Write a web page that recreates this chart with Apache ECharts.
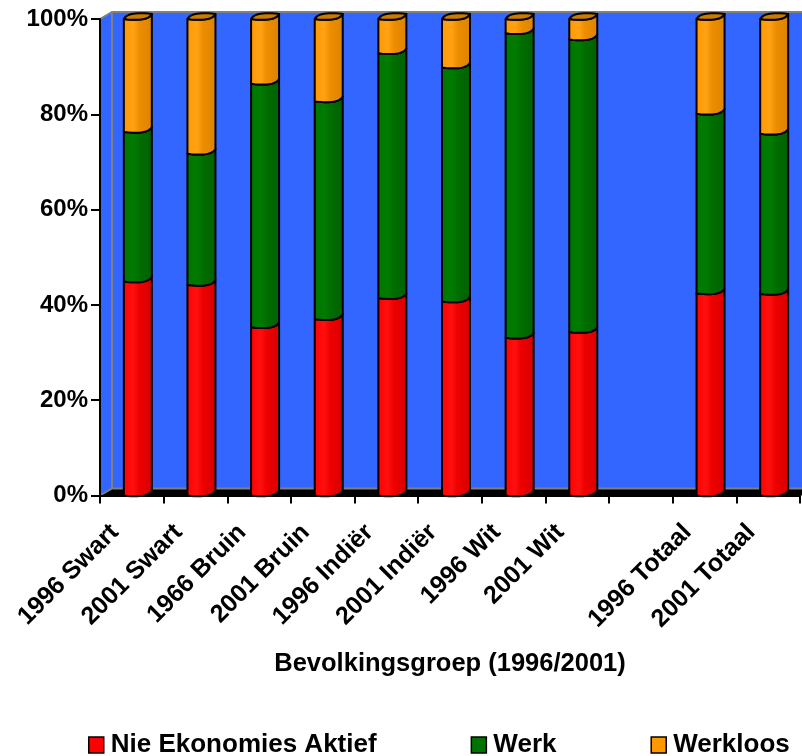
<!DOCTYPE html>
<html><head><meta charset="utf-8">
<script src="https://cdn.jsdelivr.net/npm/echarts@6/dist/echarts.min.js"></script>
<style>html,body{margin:0;padding:0;background:#fff}#c{width:802px;height:756px}</style>
</head><body><div id="c"></div>
<script>
const categories = ['1996 Swart','2001 Swart','1966 Bruin','2001 Bruin','1996 Indiër','2001 Indiër','1996 Wit','2001 Wit','','1996 Totaal','2001 Totaal'];
const nieEkonomiesAktief = [44.9,44.2,35.3,37.0,41.4,40.7,33.1,34.3,null,42.4,42.3];
const werk = [31.4,27.5,51.1,45.7,51.4,49.1,63.9,61.4,null,37.7,33.6];
const werkloos = [23.7,28.3,13.6,17.3,7.2,10.2,3.0,4.3,null,19.9,24.1];
const seriesNames = ['Nie Ekonomies Aktief','Werk','Werkloos'];
const seriesColors = ['#FF0000','#007400','#FF9900'];
const yTicks = [0,20,40,60,80,100];

const FONT = '"Liberation Sans", Arial, sans-serif';
const allSeries = [nieEkonomiesAktief, werk, werkloos];
const gradStops = [
  [{o:0,c:'#FF0000'},{o:0.35,c:'#FF1010'},{o:0.55,c:'#EE0000'},{o:1,c:'#D60000'}],
  [{o:0,c:'#007400'},{o:0.35,c:'#007C00'},{o:0.55,c:'#006E00'},{o:1,c:'#006000'}],
  [{o:0,c:'#FF9900'},{o:0.35,c:'#FFA214'},{o:0.55,c:'#EE8E00'},{o:1,c:'#DA8200'}]
];
const capColor = '#CC7A00';

function stackData(k) {
  const out = [];
  categories.forEach((c, i) => {
    const v = allSeries[k][i];
    if (v == null) return;
    let s = 0;
    for (let j = 0; j < k; j++) s += allSeries[j][i];
    out.push([i, s, s + v]);
  });
  return out;
}

function bez(p0, p1, p2, p3, n) {
  const pts = [];
  for (let t = 0; t <= n; t++) {
    const u = t / n, a = 1 - u;
    pts.push([
      a*a*a*p0[0] + 3*a*a*u*p1[0] + 3*a*u*u*p2[0] + u*u*u*p3[0],
      a*a*a*p0[1] + 3*a*a*u*p1[1] + 3*a*u*u*p2[1] + u*u*u*p3[1]
    ]);
  }
  return pts;
}
function frontArc(xl, xr, y, rise) {
  const w = xr - xl;
  return bez([xl, y], [xl + w*0.55, y + 1.8], [xr - w*0.1, y + 0.6], [xr, y - rise], 12);
}
function backArc(xl, xr, y, rise) {
  const w = xr - xl;
  return bez([xr, y - rise], [xr - w*0.55, y - rise - 1.8], [xl + w*0.1, y - rise - 0.6], [xl, y], 12);
}

function makeRender(k) {
  return function (params, api) {
    const i = api.value(0), v0 = api.value(1), v1 = api.value(2);
    const p0 = api.coord([i, v0]), p1 = api.coord([i, v1]);
    const bw = api.size([1, 0])[0] * 0.44;
    const dx = 6, rise = 5;
    const cx = p0[0] + dx, xl = cx - bw / 2, xr = cx + bw / 2;
    const y0 = p0[1], y1 = p1[1];
    const bottom = frontArc(xl, xr, y0, rise);
    const top = frontArc(xl, xr, y1, rise).reverse();
    const pts = [[xl, y1]].concat(bottom).concat(top);
    const stops = gradStops[k].map(s => ({offset: s.o, color: s.c}));
    const children = [{
      type: 'polygon',
      shape: {points: pts},
      style: {
        fill: {type: 'linear', x: 0, y: 0, x2: 1, y2: 0, colorStops: stops},
        stroke: '#000', lineWidth: 2, lineJoin: 'round'
      }
    }];
    if (k === allSeries.length - 1) {
      const cap = frontArc(xl, xr, y1, rise).concat(backArc(xl, xr, y1, rise));
      children.push({
        type: 'polygon',
        shape: {points: cap},
        style: {fill: capColor, stroke: '#000', lineWidth: 2, lineJoin: 'round'}
      });
    }
    return {type: 'group', children: children};
  };
}

function renderWalls(params, api) {
  const cs = params.coordSys;
  const x = cs.x, y = cs.y, w = cs.width, h = cs.height;
  const ddx = 12, ddy = -7;
  const xe = x + w + 20;
  const blue = '#3366FF', gray = '#808080';
  return {
    type: 'group',
    children: [
      {type: 'rect', shape: {x: x + ddx, y: y + ddy, width: xe - x - ddx, height: h}, style: {fill: blue}},
      {type: 'polygon', shape: {points: [[x, y], [x + ddx, y + ddy], [x + ddx, y + h + ddy], [x, y + h]]}, style: {fill: blue}},
      {type: 'polygon', shape: {points: [[x, y + h], [x + ddx, y + h + ddy], [xe, y + h + ddy], [xe, y + h]]}, style: {fill: '#000'}},
      {type: 'polyline', shape: {points: [[x, y], [x + ddx, y + ddy], [xe, y + ddy]]}, style: {stroke: gray, lineWidth: 2, fill: null}},
      {type: 'polyline', shape: {points: [[x + ddx, y + ddy], [x + ddx, y + h + ddy], [xe, y + h + ddy]]}, style: {stroke: gray, lineWidth: 2, fill: null}},
      {type: 'line', shape: {x1: x, y1: y + h, x2: x + ddx, y2: y + h + ddy}, style: {stroke: gray, lineWidth: 2}}
    ]
  };
}

const chart = echarts.init(document.getElementById('c'), null, {renderer: 'canvas'});
const series = [{
  type: 'custom', name: '__walls', renderItem: renderWalls, data: [[0, 0]], z: 1, silent: true
}];
seriesNames.forEach((n, k) => {
  series.push({
    type: 'custom', name: n, renderItem: makeRender(k), data: stackData(k),
    itemStyle: {color: seriesColors[k]}, z: 3 + k, clip: false
  });
});

chart.setOption({
  animation: false,
  textStyle: {fontFamily: FONT},
  grid: {left: 100, right: 2, top: 19, bottom: 260.5, containLabel: false},
  legend: {
    left: 83, top: 727, itemGap: 94, itemWidth: 15, itemHeight: 16,
    textStyle: {fontSize: 26, fontWeight: 'bold', color: '#000', fontFamily: FONT, padding: [0, 0, 0, 2]},
    data: seriesNames.map((n, k) => ({
      name: n, icon: 'rect',
      itemStyle: {color: seriesColors[k], borderColor: '#000', borderWidth: 1.5}
    }))
  },
  xAxis: {
    type: 'category', data: categories, z: 10,
    axisLine: {show: true, lineStyle: {color: '#000', width: 2}},
    axisTick: {show: true, interval: 0, length: 8, lineStyle: {color: '#000', width: 2}},
    axisLabel: {
      interval: 0, rotate: 45, margin: 16, padding: [0, 24, 0, 0],
      fontSize: 25, fontWeight: 'bold', color: '#000', fontFamily: FONT
    },
    name: 'Bevolkingsgroep (1996/2001)', nameLocation: 'middle', nameGap: 155,
    nameTextStyle: {fontSize: 25.5, fontWeight: 'bold', color: '#000', fontFamily: FONT},
    splitLine: {show: false}
  },
  yAxis: {
    type: 'value', min: yTicks[0], max: yTicks[yTicks.length - 1], interval: yTicks[1] - yTicks[0], z: 10,
    axisLine: {show: true, lineStyle: {color: '#000', width: 2}},
    axisTick: {show: true, length: 9, lineStyle: {color: '#000', width: 2}},
    axisLabel: {formatter: '{value}%', fontSize: 24, fontWeight: 'bold', color: '#000', margin: 12, fontFamily: FONT},
    splitLine: {show: false}
  },
  series: series
});
</script></body></html>
